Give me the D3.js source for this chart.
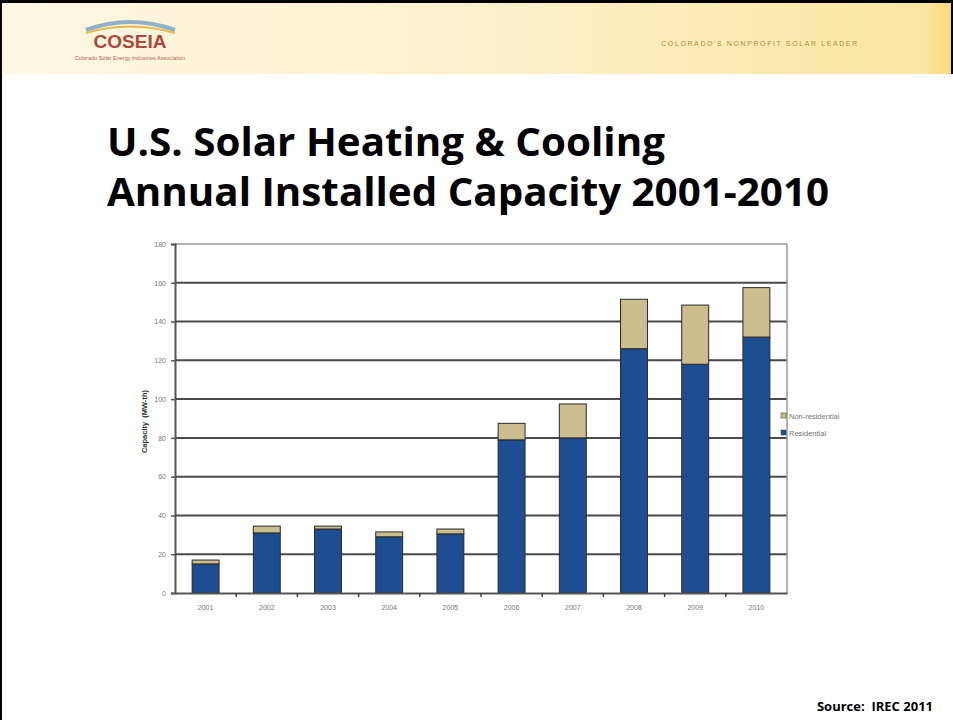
<!DOCTYPE html>
<html><head><meta charset="utf-8">
<script src="https://cdn.jsdelivr.net/npm/d3@7"></script>
<style>html,body{margin:0;padding:0;background:#fff;}svg{display:block;}text{white-space:pre;}</style>
</head><body>
<script>
const years = ["2001","2002","2003","2004","2005","2006","2007","2008","2009","2010"];
const residential = [15, 31, 33, 29, 30.5, 79, 80, 126, 118, 132];
const nonResidential = [2, 3.5, 1.5, 2.5, 2.5, 8.5, 17.5, 25.5, 30.5, 25.5];
const yTicks = [0,20,40,60,80,100,120,140,160,180];
const seriesNames = ["Residential","Non-residential"];
const seriesColors = ["#1d4e92","#cbbd8d"];

const W = 953, H = 720;
const svg = d3.select("body").append("svg").attr("width", W).attr("height", H);

// header
const defs = svg.append("defs");
const g1 = defs.append("linearGradient").attr("id","hdr").attr("x1","0").attr("x2","1");
g1.append("stop").attr("offset","0").attr("stop-color","#fdf6e2");
g1.append("stop").attr("offset","0.55").attr("stop-color","#fcf0c9");
g1.append("stop").attr("offset","0.8").attr("stop-color","#fbeab0");
g1.append("stop").attr("offset","0.97").attr("stop-color","#fae6a0");
g1.append("stop").attr("offset","1").attr("stop-color","#f8d878");
svg.append("rect").attr("x",0).attr("y",0).attr("width",W).attr("height",74).attr("fill","url(#hdr)");
// logo
svg.append("path").attr("d","M86,30 Q130,14 175,30").attr("fill","none").attr("stroke","#8fb0c8").attr("stroke-width",4);
svg.append("path").attr("d","M86,33 Q130,20 175,33").attr("fill","none").attr("stroke","#e6b94a").attr("stroke-width",2);
svg.append("text").attr("x",130).attr("y",48).attr("text-anchor","middle")
  .attr("font-family","Liberation Sans, Arial").attr("font-weight","bold").attr("font-size",19)
  .attr("fill","#b0483a").text("COSEIA");
svg.append("text").attr("x",130).attr("y",60).attr("text-anchor","middle")
  .attr("font-family","Liberation Sans, Arial").attr("font-size",5.5)
  .attr("fill","#b06a5a").text("Colorado Solar Energy Industries Association");
svg.append("text").attr("x",760).attr("y",46).attr("text-anchor","middle")
  .attr("font-family","Liberation Sans, Arial").attr("font-size",7).attr("letter-spacing",1.6)
  .attr("fill","#b48a3a").text("COLORADO'S NONPROFIT SOLAR LEADER");

// borders
svg.append("rect").attr("x",0).attr("y",0).attr("width",W).attr("height",3).attr("fill","#000");
svg.append("rect").attr("x",0).attr("y",0).attr("width",2).attr("height",H).attr("fill","#000");
svg.append("rect").attr("x",W-2).attr("y",0).attr("width",2).attr("height",74).attr("fill","#000");

// title
const tf = "'Open Sans', 'Liberation Sans', Arial";
svg.append("text").attr("x",107).attr("y",156).attr("font-family",tf).attr("font-weight","bold")
  .attr("font-size",39).attr("fill","#000").attr("textLength",558).attr("lengthAdjust","spacingAndGlyphs")
  .text("U.S. Solar Heating & Cooling");
svg.append("text").attr("x",107).attr("y",206).attr("font-family",tf).attr("font-weight","bold")
  .attr("font-size",39).attr("fill","#000").attr("textLength",722).attr("lengthAdjust","spacingAndGlyphs")
  .text("Annual Installed Capacity 2001-2010");

// chart
const x0 = 175, x1 = 787, yb = 593, yt = 244;
const x = d3.scaleBand().domain(years).range([x0, x1]).paddingInner(0.56).paddingOuter(0.28);
const y = d3.scaleLinear().domain([0,180]).range([yb, yt]);

// gridlines
svg.append("g").selectAll("line").data(yTicks.filter(d=>d>0)).join("line")
  .attr("x1",x0).attr("x2",x1).attr("y1",d=>y(d)).attr("y2",d=>y(d))
  .attr("stroke",d=>d===180?"#9a9a9a":"#4a4a4a").attr("stroke-width",d=>d===180?1.5:2);
// plot right border
svg.append("line").attr("x1",x1).attr("x2",x1).attr("y1",yt).attr("y2",yb).attr("stroke","#9a9a9a").attr("stroke-width",1.5);

// stacked bars
const rows = years.map((yr,i)=>({year:yr, Residential:residential[i], "Non-residential":nonResidential[i]}));
const stack = d3.stack().keys(seriesNames)(rows);
svg.append("g").selectAll("g").data(stack).join("g")
  .attr("fill",(d,i)=>seriesColors[i])
  .selectAll("rect").data(d=>d).join("rect")
  .attr("x",d=>x(d.data.year)).attr("width",x.bandwidth())
  .attr("y",d=>y(d[1])).attr("height",d=>y(d[0])-y(d[1]))
  .attr("stroke","#2a2a2a").attr("stroke-width",1);

// y axis
const yAxis = svg.append("g").attr("transform",`translate(${x0},0)`)
  .call(d3.axisLeft(y).tickValues(yTicks).tickSize(4).tickPadding(5));
yAxis.select(".domain").attr("stroke","#555").attr("stroke-width",2);
yAxis.selectAll(".tick line").attr("stroke","#555").attr("stroke-width",1.5);
yAxis.selectAll("text").attr("font-family","Liberation Sans, Arial").attr("font-size",7).attr("fill","#777");

// x axis
const xAxis = svg.append("g").attr("transform",`translate(0,${yb})`)
  .call(d3.axisBottom(x).tickSize(0).tickPadding(12));
xAxis.select(".domain").attr("stroke","#555").attr("stroke-width",2);
xAxis.selectAll("text").attr("font-family","Liberation Sans, Arial").attr("font-size",7).attr("fill","#777");
// boundary ticks between categories
const step = x.step();
svg.append("g").selectAll("line").data(years.slice(1)).join("line")
  .attr("x1",d=>x(d)-x.paddingInner()*step/2).attr("x2",d=>x(d)-x.paddingInner()*step/2)
  .attr("y1",yb).attr("y2",yb+4).attr("stroke","#444").attr("stroke-width",1.5);

// axis title
svg.append("text").attr("transform",`translate(147,${(yt+yb)/2+3}) rotate(-90)`)
  .attr("text-anchor","middle").attr("font-family","Liberation Sans, Arial").attr("font-weight","bold")
  .attr("font-size",7.5).attr("fill","#333").text("Capacity  (MW-th)");

// legend
const legend = svg.append("g");
const legItems = [{name:"Non-residential", c:seriesColors[1], yy:416},{name:"Residential", c:seriesColors[0], yy:433}];
legItems.forEach(it=>{
  legend.append("rect").attr("x",781).attr("y",it.yy-3).attr("width",5).attr("height",5).attr("fill",it.c).attr("stroke","#333").attr("stroke-width",0.5);
  legend.append("text").attr("x",789).attr("y",it.yy+2.5).attr("font-family","Liberation Sans, Arial").attr("font-size",7.5).attr("fill","#777").text(it.name);
});

// source
svg.append("text").attr("x",933).attr("y",711).attr("text-anchor","end")
  .attr("font-family","'Open Sans', 'Liberation Sans', Arial").attr("font-weight","bold").attr("font-size",13)
  .attr("fill","#000").text("Source:  IREC 2011");
</script>
</body></html>
